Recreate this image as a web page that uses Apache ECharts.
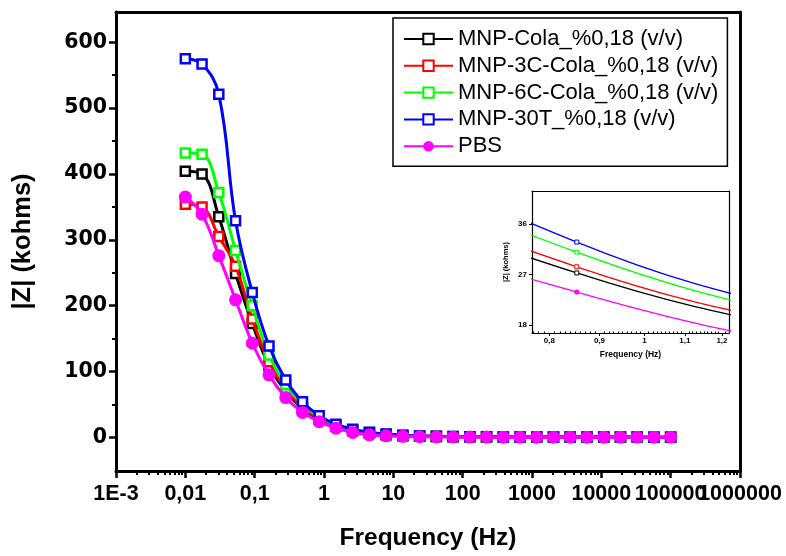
<!DOCTYPE html>
<html><head><meta charset="utf-8">
<script src="https://cdn.jsdelivr.net/npm/echarts@6/dist/echarts.min.js"></script>
<style>html,body{margin:0;padding:0;background:#fff}#c{width:786px;height:556px}</style>
</head><body><div id="c"></div>
<script>
// Frequencies (Hz), 30 log-spaced points
const frequency = [0.01, 0.01743, 0.03039, 0.05298, 0.09237, 0.1610, 0.2807, 0.4894, 0.8532, 1.487,
  2.593, 4.520, 7.880, 13.74, 23.95, 41.75, 72.79, 126.9, 221.2, 385.7,
  672.3, 1172, 2043, 3562, 6210, 10827, 18874, 32904, 57362, 100000];

const mnpCola = [404, 400, 335, 249, 173, 109, 70, 44, 27.3, 16.8, 10.3, 6.6, 4.2, 2.7, 1.9, 1.4, 1.1, 0.9, 0.8, 0.7, 0.6, 0.55, 0.5, 0.5, 0.45, 0.45, 0.4, 0.4, 0.4, 0.4];
const mnp3C = [354, 350, 305, 260, 180, 115, 73, 46, 28.4, 17.5, 10.8, 6.9, 4.4, 2.9, 2.0, 1.4, 1.1, 0.9, 0.8, 0.7, 0.6, 0.55, 0.5, 0.5, 0.45, 0.45, 0.4, 0.4, 0.4, 0.4];
const mnp6C = [432, 430, 372, 284, 200, 125, 80, 50, 31.0, 19, 11.8, 7.5, 4.8, 3.1, 2.1, 1.5, 1.2, 1.0, 0.85, 0.75, 0.65, 0.6, 0.55, 0.5, 0.5, 0.45, 0.45, 0.4, 0.4, 0.4];
const mnp30T = [575, 567, 521, 329, 220, 139, 87, 54, 32.8, 20, 12.5, 8, 5.2, 3.4, 2.3, 1.7, 1.3, 1.1, 0.9, 0.8, 0.7, 0.65, 0.6, 0.55, 0.5, 0.5, 0.45, 0.45, 0.4, 0.4];
const pbs = [365, 339, 276, 209, 143, 95, 60.5, 38, 23.9, 14, 7.5, 4, 2.4, 1.6, 1.1, 0.8, 0.6, 0.5, 0.45, 0.4, 0.35, 0.3, 0.3, 0.3, 0.3, 0.3, 0.3, 0.3, 0.3, 0.3];

const seriesNames = ['MNP-Cola_%0,18 (v/v)', 'MNP-3C-Cola_%0,18 (v/v)', 'MNP-6C-Cola_%0,18 (v/v)', 'MNP-30T_%0,18 (v/v)', 'PBS'];
const seriesColors = ['#000000', '#ff0000', '#00ff00', '#0000ff', '#ff00ff'];

const mainXTicks = [0.001, 0.01, 0.1, 1, 10, 100, 1000, 10000, 100000, 1000000];
const mainXTickLabels = ['1E-3', '0,01', '0,1', '1', '10', '100', '1000', '10000', '100000', '1000000'];
const mainYTicks = [0, 100, 200, 300, 400, 500, 600];
const mainYMinorTicks = [50, 150, 250, 350, 450, 550];
const insetXTicks = [0.8, 0.9, 1, 1.1, 1.2];
const insetXTickLabels = ['0,8', '0,9', '1', '1,1', '1,2'];
const insetYTicks = [18, 27, 36];

// minor ticks for the log axis (2..9 in each decade)
const mainXMinorTicks = [];
mainXTicks.slice(0, -1).forEach(d => { for (let m = 2; m <= 9; m++) mainXMinorTicks.push(+(d * m).toPrecision(3)); });
const insetXMinorTicks = [];
for (let i = 77; i <= 122; i++) { if (i % 10 !== 0) insetXMinorTicks.push(i / 100); }

function nearestLabel(v, ticks, labels) {
  let best = 0, bd = Infinity;
  ticks.forEach((t, i) => { const d = Math.abs(Math.log(v) - Math.log(t)); if (d < bd) { bd = d; best = i; } });
  return labels[best];
}

const FONT = 'Liberation Sans';
const values = [mnpCola, mnp3C, mnp6C, mnp30T, pbs];

const series = [];
values.forEach((vals, i) => {
  const isPbs = i === 4;
  const pts = frequency.map((f, k) => [f, vals[k]]);
  series.push({
    name: seriesNames[i], type: 'line', xAxisIndex: 0, yAxisIndex: 0,
    data: pts, smooth: 0.4, showAllSymbol: true,
    symbol: isPbs ? 'circle' : 'rect', symbolSize: isPbs ? 13 : 9,
    lineStyle: { color: seriesColors[i], width: 3 },
    itemStyle: isPbs ? { color: seriesColors[i], borderWidth: 0 } : { color: '#fff', borderColor: seriesColors[i], borderWidth: 2.5 },
    emphasis: { disabled: true }, z: 2 + i
  });
  series.push({
    name: seriesNames[i], type: 'line', xAxisIndex: 3, yAxisIndex: 3,
    data: pts, smooth: 0.4, showAllSymbol: true, clip: true,
    symbol: isPbs ? 'circle' : 'rect', symbolSize: isPbs ? 5 : 4,
    lineStyle: { color: seriesColors[i], width: 1.3 },
    itemStyle: isPbs ? { color: seriesColors[i], borderWidth: 0 } : { color: '#fff', borderColor: seriesColors[i], borderWidth: 1 },
    emphasis: { disabled: true }, z: 20 + i
  });
});

const blackLine = (w) => ({ show: true, onZero: false, lineStyle: { color: '#000', width: w } });
const noLine = { show: false, onZero: false };
const none = { show: false };
const mainXLabelStyle = { margin: 12, color: '#000', fontFamily: FONT, fontWeight: 'bold', fontSize: 21.5,
  showMinLabel: true, showMaxLabel: true, hideOverlap: false,
  formatter: v => nearestLabel(v, mainXTicks, mainXTickLabels) };

const option = {
  animation: false,
  backgroundColor: '#fff',
  grid: [
    { left: 116, top: 12, right: 46, bottom: 83 },
    { left: 532, top: 191, width: 197, height: 142, z: 10 }
  ],
  legend: {
    data: seriesNames, orient: 'vertical', left: 393, top: 18,
    padding: [10, 9, 9, 10], borderColor: '#000', borderWidth: 1.5, backgroundColor: '#fff',
    itemWidth: 49, itemHeight: 13, itemGap: 4.8,
    textStyle: { fontFamily: FONT, fontSize: 22, color: '#000', lineHeight: 20 },
    z: 30
  },
  xAxis: [
    { gridIndex: 0, type: 'log', logBase: 10, min: 0.001, max: 1000000, position: 'bottom',
      axisLine: blackLine(3), splitLine: none,
      axisTick: { show: true, inside: false, length: 7, lineStyle: { color: '#000', width: 2.5 }, customValues: mainXTicks },
      axisLabel: Object.assign({ customValues: mainXTicks.slice(0, -1) }, mainXLabelStyle),
      name: 'Frequency (Hz)', nameLocation: 'middle', nameGap: 55,
      nameTextStyle: { fontFamily: FONT, fontWeight: 'bold', fontSize: 24.5, color: '#000' } },
    { gridIndex: 0, type: 'log', logBase: 10, min: 0.001, max: 1000000, position: 'bottom',
      axisLine: noLine, splitLine: none,
      axisLabel: Object.assign({ customValues: mainXTicks.slice(-1) }, mainXLabelStyle),
      axisTick: { show: true, inside: false, length: 4, lineStyle: { color: '#000', width: 2 }, customValues: mainXMinorTicks } },
    { gridIndex: 0, type: 'value', position: 'top', min: 0, max: 1,
      axisLine: blackLine(3), axisTick: none, axisLabel: none, splitLine: none },
    { gridIndex: 1, type: 'log', logBase: 10, min: 0.768, max: 1.22, position: 'bottom',
      axisLine: blackLine(1.2), splitLine: none,
      axisTick: { show: true, inside: false, length: 3, lineStyle: { color: '#000', width: 1 }, customValues: insetXTicks },
      axisLabel: { customValues: insetXTicks, margin: 4, color: '#000', fontFamily: FONT, fontWeight: 'bold', fontSize: 8,
        showMinLabel: true, showMaxLabel: true, hideOverlap: false,
        formatter: v => nearestLabel(v, insetXTicks, insetXTickLabels) },
      name: 'Frequency (Hz)', nameLocation: 'middle', nameGap: 17,
      nameTextStyle: { fontFamily: FONT, fontWeight: 'bold', fontSize: 8.5, color: '#000' } },
    { gridIndex: 1, type: 'log', logBase: 10, min: 0.768, max: 1.22, position: 'bottom',
      axisLine: noLine, splitLine: none, axisLabel: none,
      axisTick: { show: true, inside: true, length: 1.5, lineStyle: { color: '#000', width: 1 }, customValues: insetXMinorTicks } },
    { gridIndex: 1, type: 'value', position: 'top', min: 0, max: 1,
      axisLine: blackLine(1.2), axisTick: none, axisLabel: none, splitLine: none }
  ],
  yAxis: [
    { gridIndex: 0, type: 'value', min: -51, max: 646, position: 'left',
      axisLine: blackLine(3), splitLine: none,
      axisTick: { show: true, inside: false, length: 7, lineStyle: { color: '#000', width: 2.5 }, customValues: mainYTicks },
      axisLabel: { customValues: mainYTicks, margin: 9, color: '#000', fontFamily: 'DejaVu Sans', fontWeight: 'bold', fontSize: 20.5 },
      name: '|Z| (kohms)', nameLocation: 'middle', nameGap: 80,
      nameTextStyle: { fontFamily: FONT, fontWeight: 'bold', fontSize: 25.5, color: '#000' } },
    { gridIndex: 0, type: 'value', min: -51, max: 646, position: 'left',
      axisLine: noLine, splitLine: none, axisLabel: none,
      axisTick: { show: true, inside: false, length: 4, lineStyle: { color: '#000', width: 2 }, customValues: mainYMinorTicks } },
    { gridIndex: 0, type: 'value', min: 0, max: 1, position: 'right',
      axisLine: blackLine(3), axisTick: none, axisLabel: none, splitLine: none },
    { gridIndex: 1, type: 'value', min: 16.6, max: 41.9, position: 'left',
      axisLine: blackLine(1.2), splitLine: none,
      axisTick: { show: true, inside: false, length: 3, lineStyle: { color: '#000', width: 1 }, customValues: insetYTicks },
      axisLabel: { customValues: insetYTicks, margin: 5, color: '#000', fontFamily: FONT, fontWeight: 'bold', fontSize: 8 },
      name: '|Z| (kohms)', nameLocation: 'middle', nameGap: 22,
      nameTextStyle: { fontFamily: FONT, fontWeight: 'bold', fontSize: 7.5, color: '#000' } },
    { gridIndex: 1, type: 'value', min: 0, max: 1, position: 'right',
      axisLine: blackLine(1.2), axisTick: none, axisLabel: none, splitLine: none }
  ],
  series: series
};

const chart = echarts.init(document.getElementById('c'), null, { renderer: 'canvas' });
chart.setOption(option);
</script>
</body></html>
